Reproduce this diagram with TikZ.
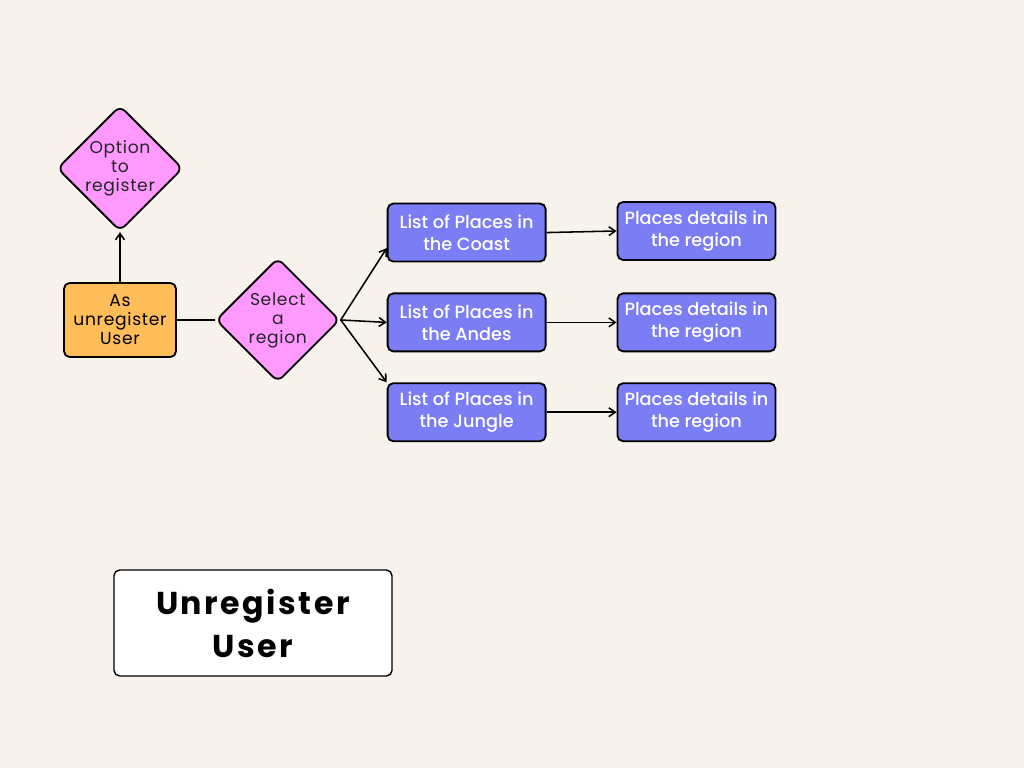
\documentclass[tikz,border=0pt]{standalone}
\usepackage{fontspec}
\setmainfont{Poppins}[UprightFont=* Medium, BoldFont=* Bold]
\newfontfamily\titlefont[LetterSpace=8, BoldFont=* Bold]{Poppins}
\newfontfamily\smallfont[LetterSpace=4]{Poppins}
\usepackage{xcolor}
\usetikzlibrary{shapes.geometric, arrows.meta, positioning}

\definecolor{bgcream}{RGB}{247,243,236}
\definecolor{userorange}{RGB}{255,189,89}
\definecolor{choicepink}{RGB}{255,153,255}
\definecolor{placeblue}{RGB}{123,125,245}

\begin{document}
\begin{tikzpicture}[node distance=1.5cm, >={Straight Barb[length=1.6mm, width=2.2mm]}]
    \tikzstyle{user} = [rectangle, draw=black, line width=1.3pt, fill=userorange, minimum width=2.8cm, minimum height=1.85cm, rounded corners=4pt, align=center, font=\smallfont\fontsize{12.2}{13.5}\selectfont]
    \tikzstyle{choice} = [diamond, aspect=1, draw=black, line width=1.3pt, fill=choicepink, minimum width=3.1cm, minimum height=3.1cm, inner sep=0pt, rounded corners=5pt, align=center, font=\smallfont\fontsize{12.2}{13.5}\selectfont, text=black!85]
    \tikzstyle{places} = [rectangle, draw=black, line width=1.3pt, fill=placeblue, text=white, minimum width=3.95cm, minimum height=1.45cm, rounded corners=4pt, align=center, font=\fontsize{12.6}{15.6}\selectfont]
    \tikzstyle{caption} = [rectangle, draw=black, line width=1pt, fill=white, minimum width=6.95cm, minimum height=2.65cm, rounded corners=4pt, align=center, font=\titlefont\bfseries\fontsize{22.5}{30.6}\selectfont]

    % canvas
    \fill [bgcream] (0,0) rectangle (25.6,-19.2);
    \useasboundingbox (0,0) rectangle (25.6,-19.2);

    \node [user] at (3.0,-8.0) (user) {As\\unregister\\User};
    \node [choice, above=1.25cm of user] (reg) {Option\\to\\register};
    \node [choice, right=0.95cm of user] (sel) {Select\\a\\region};

    \node [places, right=1.15cm of sel, yshift=-0.06cm] (andes) {List of Places in\\the Andes};
    \node [places, above=0.75cm of andes] (coast) {List of Places in\\the Coast};
    \node [places, below=0.75cm of andes] (jungle) {List of Places in\\the Jungle};

    \node [places, right=1.75cm of coast, yshift=0.04cm] (detcoast) {Places details in\\the region};
    \node [places, right=1.75cm of andes] (detandes) {Places details in\\the region};
    \node [places, right=1.75cm of jungle] (detjungle) {Places details in\\the region};

    \node [caption] at (6.325,-15.575) (title) {Unregister\\User};

    % user -> choices
    \draw [->, line width=1.1pt] (user.north) -- (reg.south);
    \draw [line width=1.1pt] (user.east) -- (sel.west);

    % region -> lists
    \draw [->, line width=1.1pt] (sel.east) -- (coast.191);
    \draw [->, line width=1.1pt] (sel.east) -- (andes.west);
    \draw [->, line width=1.1pt] (sel.east) -- (jungle.north west);

    % lists -> details
    \draw [->, line width=1.1pt] (coast.east) -- (detcoast.west);
    \draw [->, line width=1.1pt] (andes.east) -- (detandes.west);
    \draw [->, line width=1.1pt] (jungle.east) -- (detjungle.west);
\end{tikzpicture}
\end{document}
